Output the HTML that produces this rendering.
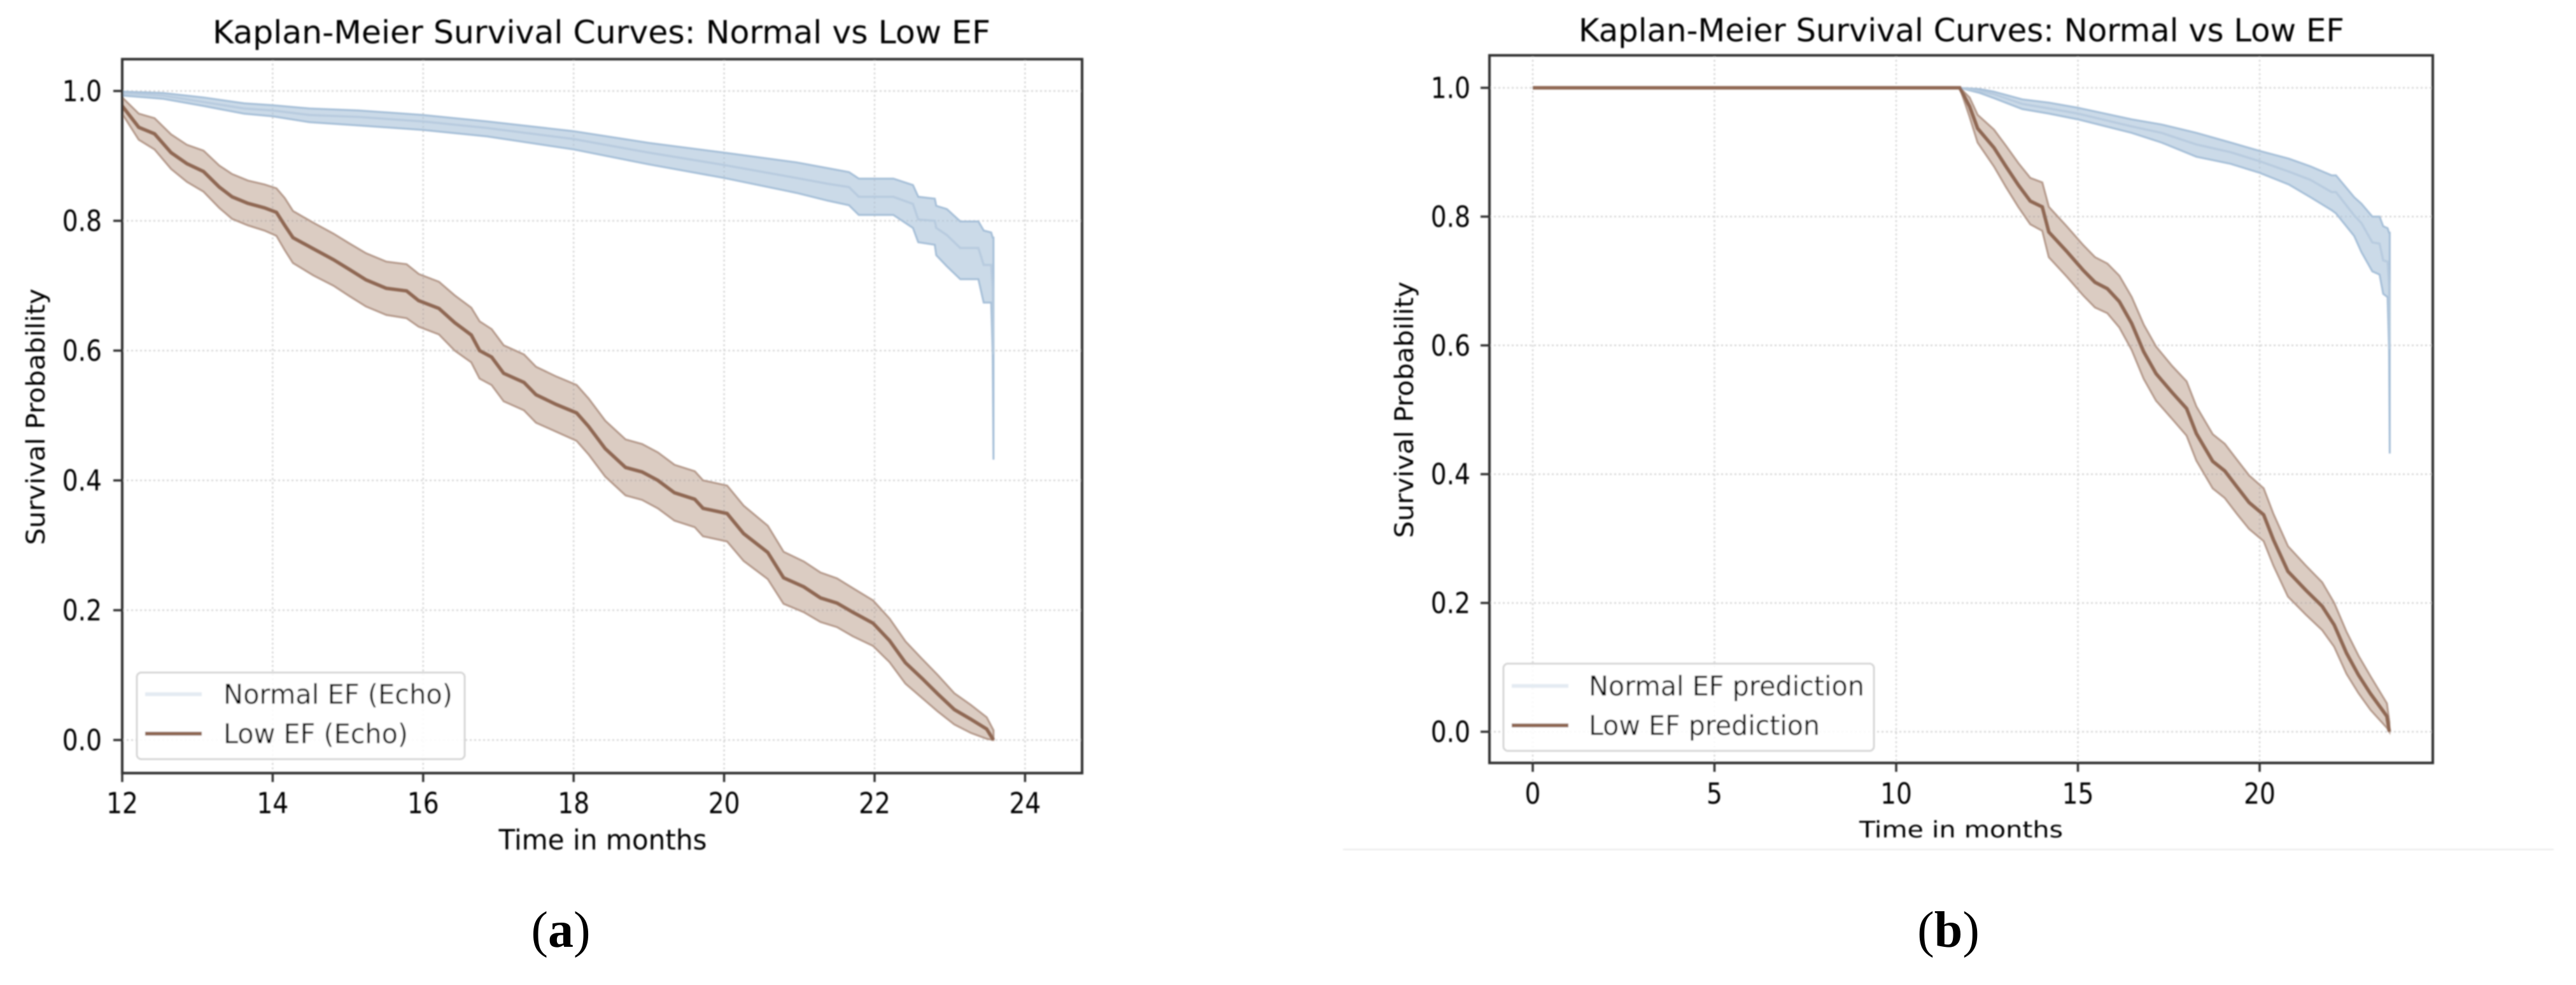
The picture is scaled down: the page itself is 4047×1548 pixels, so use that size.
<!DOCTYPE html>
<html>
<head>
<meta charset="utf-8">
<title>Kaplan-Meier Survival Curves</title>
<style>
html,body{margin:0;padding:0;background:#fff;}
svg{display:block;}
text{font-family:"DejaVu Sans","Liberation Sans",sans-serif;fill:#000;}
.cap{font-family:"Liberation Serif",serif;font-size:80px;fill:#000;}
</style>
</head>
<body>
<svg id="figure" xmlns="http://www.w3.org/2000/svg" width="4047" height="1548" viewBox="0 0 4047 1548">
<defs><filter id="soft" x="-2%" y="-2%" width="104%" height="104%"><feGaussianBlur stdDeviation="1"/></filter></defs>
<rect width="4047" height="1548" fill="#fff"/>
<g id="root" filter="url(#soft)">
<g id="panelA"></g>
<g id="panelB"></g>
<line x1="2110" x2="4012" y1="1335" y2="1335" stroke="#e9e9e9" stroke-width="2"/>
</g>
<text class="cap" x="881" y="1488" text-anchor="middle">(<tspan font-weight="bold">a</tspan>)</text>
<text class="cap" x="3061" y="1488" text-anchor="middle">(<tspan font-weight="bold">b</tspan>)</text>
</svg>
<script>
const yTicks = [0, 0.2, 0.4, 0.6, 0.8, 1.0];
const yTickLabels = ['0.0', '0.2', '0.4', '0.6', '0.8', '1.0'];
const aXTicks = [12, 14, 16, 18, 20, 22, 24];
const bXTicks = [0, 5, 10, 15, 20];

const aNormalTime = [12,12.54,13.08,13.62,14,14.49,15.14,16,16.85,18,19,20,20.96,21.38,21.66,21.79,22.25,22.51,22.58,22.80,22.82,22.96,23.14,23.38,23.45,23.55,23.57,23.58];
const aNormalSurv = [.997,.993,.983,.973,.97,.963,.96,.953,.943,.926,.905,.886,.866,.857,.852,.837,.837,.826,.802,.80,.789,.778,.758,.758,.732,.732,.695,.594];
const aNormalUpper = [.999,.997,.99,.981,.978,.973,.97,.963,.953,.938,.92,.905,.89,.881,.875,.865,.865,.855,.837,.834,.823,.818,.799,.799,.785,.782,.774,.774];
const aNormalLower = [.993,.988,.977,.965,.961,.952,.947,.94,.93,.91,.887,.866,.843,.831,.824,.809,.809,.789,.767,.763,.747,.73,.71,.71,.674,.674,.594,.432];

const aLowTime = [12,12.22,12.43,12.65,12.86,13.08,13.29,13.46,13.67,13.89,14.05,14.16,14.27,14.54,14.81,15.02,15.24,15.51,15.78,15.94,16.21,16.42,16.64,16.75,16.91,17.07,17.34,17.5,17.77,18.04,18.2,18.42,18.69,18.91,19.12,19.34,19.61,19.72,20.04,20.26,20.58,20.79,21.06,21.28,21.5,21.71,21.98,22.2,22.41,22.63,22.84,23.06,23.28,23.49,23.58];
const aLowSurv = [.977,.944,.934,.905,.888,.876,.852,.837,.827,.82,.813,.793,.774,.757,.74,.725,.709,.696,.692,.677,.665,.643,.624,.60,.59,.565,.551,.532,.517,.504,.483,.449,.42,.413,.40,.381,.371,.357,.349,.318,.289,.25,.236,.219,.211,.197,.18,.153,.119,.095,.071,.047,.032,.017,0];
const aLowUpper = [.99,.965,.958,.933,.917,.908,.885,.872,.862,.856,.85,.835,.815,.797,.78,.765,.75,.737,.733,.718,.706,.685,.666,.645,.633,.608,.594,.575,.56,.547,.526,.492,.463,.456,.443,.424,.414,.40,.392,.361,.33,.29,.275,.258,.249,.234,.215,.187,.152,.125,.10,.072,.054,.035,.015];
const aLowLower = [.965,.925,.91,.88,.86,.845,.82,.803,.793,.785,.777,.755,.735,.716,.70,.684,.668,.655,.65,.637,.625,.60,.582,.557,.547,.522,.508,.489,.475,.461,.44,.406,.377,.37,.357,.338,.328,.314,.306,.276,.248,.21,.197,.182,.174,.16,.145,.12,.087,.065,.044,.024,.011,.002,0];

const bNormalTime = [0,11.75,12.3,12.69,13.47,14.2,15,16.48,17.3,18.26,19.2,20,20.8,21.4,21.98,22.1,22.6,22.8,23.1,23.3,23.4,23.52,23.56,23.58];
const bNormalSurv = [1,1,.995,.99,.975,.968,.96,.94,.93,.912,.9,.886,.87,.857,.838,.838,.802,.79,.76,.758,.732,.73,.695,.594];
const bNormalUpper = [1,1,.998,.994,.982,.977,.969,.951,.943,.93,.915,.902,.89,.878,.864,.864,.83,.82,.80,.80,.785,.782,.775,.775];
const bNormalLower = [1,1,.992,.984,.967,.96,.951,.93,.915,.893,.882,.868,.85,.83,.81,.805,.77,.745,.715,.71,.68,.675,.594,.432];

const bLowTime = [0,11.75,12.02,12.24,12.69,13.02,13.36,13.69,14.02,14.2,14.69,15.14,15.47,15.81,16.14,16.48,16.81,17.15,17.59,17.99,18.26,18.71,19.04,19.38,19.71,20.11,20.38,20.78,21.27,21.72,22.05,22.39,22.72,23.05,23.5,23.57];
const bLowSurv = [1,1,.971,.937,.907,.878,.849,.824,.815,.776,.746,.717,.698,.688,.668,.634,.59,.556,.527,.502,.463,.42,.405,.38,.356,.337,.298,.249,.22,.195,.166,.122,.088,.059,.024,0];
const bLowUpper = [1,1,.985,.958,.935,.91,.883,.86,.853,.815,.785,.756,.737,.727,.708,.675,.632,.598,.568,.544,.505,.462,.447,.422,.398,.378,.338,.288,.258,.232,.2,.155,.118,.086,.044,.015];
const bLowLower = [1,1,.955,.915,.878,.846,.815,.788,.778,.737,.707,.678,.659,.65,.628,.593,.548,.514,.486,.46,.421,.378,.363,.338,.315,.296,.258,.21,.182,.158,.132,.09,.06,.034,.006,0];

const NS = 'http://www.w3.org/2000/svg';
const NORMAL_FILL = '#a9c1d9', NORMAL_EDGE = '#a6bfd8', LOW_FILL = '#a57f68', LOW_EDGE = '#b59a8b', LOW_LINE = '#8f6753';
const FRAME = '#333';

function mk(parent, tag, attrs, name) {
  const el = document.createElementNS(NS, tag);
  for (const k in attrs) el.setAttribute(k, attrs[k]);
  
  
  parent.appendChild(el);
  return el;
}
function label(parent, str, x, y, size, len, anchor, name, rotate) {
  const a = {x: x, y: y, 'font-size': size, 'text-anchor': anchor};
  if (len) { a.textLength = len; a.lengthAdjust = 'spacingAndGlyphs'; }
  if (rotate) a.transform = 'rotate(-90 ' + x + ' ' + y + ')';
  const t = mk(parent, 'text', a, name);
  t.textContent = str;
  return t;
}
function tickWidth(str) {
  let em = 0;
  for (const c of str) em += (c === '.' ? 0.318 : 0.636);
  return em * 45 * 0.87;
}
function drawPanel(g, p) {
  const sx = t => p.x0 + (t - p.t0) * p.pxPerUnit;
  const sy = v => p.y0 - v * p.yPx;
  // grid
  p.xTicks.forEach(t => mk(g, 'line', {x1: sx(t), x2: sx(t), y1: p.top, y2: p.bottom, stroke: '#d6d6d6', 'stroke-width': 2.5, 'stroke-dasharray': '3 4'}, 'x-gridline-' + t));
  yTicks.forEach(v => mk(g, 'line', {x1: p.left, x2: p.right, y1: sy(v), y2: sy(v), stroke: '#d6d6d6', 'stroke-width': 2.5, 'stroke-dasharray': '3 4'}, 'y-gridline-' + v));
  // series
  function series(name, time, surv, upper, lower, fill, edge, fillOp, line, lineW, lineOp) {
    let d = '';
    time.forEach((t, i) => { d += (i ? 'L' : 'M') + sx(t).toFixed(1) + ' ' + sy(upper[i]).toFixed(1); });
    for (let i = time.length - 1; i >= 0; i--) d += 'L' + sx(time[i]).toFixed(1) + ' ' + sy(lower[i]).toFixed(1);
    mk(g, 'path', {d: d + 'Z', fill: fill, 'fill-opacity': fillOp, stroke: edge, 'stroke-width': 3}, name + '-confidence-band');
    let c = '';
    time.forEach((t, i) => { c += (i ? 'L' : 'M') + sx(t).toFixed(1) + ' ' + sy(surv[i]).toFixed(1); });
    mk(g, 'path', {d: c, fill: 'none', stroke: line, 'stroke-width': lineW, 'stroke-opacity': lineOp}, name + '-survival-line');
  }
  series('normal-ef', p.nT, p.nS, p.nU, p.nL, NORMAL_FILL, NORMAL_EDGE, .6, '#b6cade', 3.5, .9);
  series('low-ef', p.lT, p.lS, p.lU, p.lL, LOW_FILL, LOW_EDGE, .4, LOW_LINE, 5.5, 1);
  // frame
  mk(g, 'rect', {x: p.left, y: p.top, width: p.right - p.left, height: p.bottom - p.top, fill: 'none', stroke: FRAME, 'stroke-width': 4}, 'plot-frame');
  // ticks
  p.xTicks.forEach(t => {
    mk(g, 'line', {x1: sx(t), x2: sx(t), y1: p.bottom, y2: p.bottom + 14, stroke: FRAME, 'stroke-width': 3.5}, 'x-tick-' + t);
    label(g, String(t), sx(t), p.xLabelBase, 45, tickWidth(String(t)), 'middle', 'x-tick-label-' + t);
  });
  yTicks.forEach((v, i) => {
    mk(g, 'line', {x1: p.left - 14, x2: p.left, y1: sy(v), y2: sy(v), stroke: FRAME, 'stroke-width': 3.5}, 'y-tick-' + i);
    label(g, yTickLabels[i], p.left - p.yLabelGap, sy(v) + 16, 45, tickWidth(yTickLabels[i]), 'end', 'y-tick-label-' + i);
  });
  // labels
  label(g, p.title, (p.titleL + p.titleR) / 2, p.titleBase, 50, p.titleR - p.titleL, 'middle', 'chart-title');
  label(g, 'Time in months', p.xtX, p.xtBase, p.xtSize, p.xtLen, 'middle', 'x-axis-title');
  label(g, 'Survival Probability', p.ytX, p.ytY, 40, 403, 'middle', 'y-axis-title', true);
  // legend
  const L = p.legend;
  const lg = mk(g, 'g', {}, 'legend');
  mk(lg, 'rect', {x: L.x, y: L.y, width: L.w, height: L.h, rx: 7, fill: '#fff', 'fill-opacity': .85, stroke: '#d6d6d6', 'stroke-width': 3}, 'legend-frame');
  mk(lg, 'line', {x1: L.lx1, x2: L.lx2, y1: L.y1, y2: L.y1, stroke: '#e4ebf2', 'stroke-width': 6}, 'legend-line-normal');
  mk(lg, 'line', {x1: L.lx1, x2: L.lx2, y1: L.y2, y2: L.y2, stroke: LOW_LINE, 'stroke-width': 6}, 'legend-line-low');
  label(lg, L.t1, L.tx, L.y1 + 15, 43, L.len1, 'start', 'legend-label-normal');
  label(lg, L.t2, L.tx, L.y2 + 15, 43, L.len2, 'start', 'legend-label-low');
}
drawPanel(document.getElementById('panelA'), {
  left: 192, right: 1700, top: 93, bottom: 1215, x0: 192, t0: 12, pxPerUnit: 118.2, y0: 1163, yPx: 1020,
  xTicks: aXTicks, xLabelBase: 1278, yLabelGap: 32,
  title: 'Kaplan-Meier Survival Curves: Normal vs Low EF', titleL: 334, titleR: 1556, titleBase: 68,
  xtX: 947, xtBase: 1335, xtSize: 44, xtLen: 327, ytX: 70, ytY: 655,
  nT: aNormalTime, nS: aNormalSurv, nU: aNormalUpper, nL: aNormalLower,
  lT: aLowTime, lS: aLowSurv, lU: aLowUpper, lL: aLowLower,
  legend: {x: 215, y: 1057, w: 515, h: 136, lx1: 228, lx2: 317, y1: 1091, y2: 1153, tx: 351, t1: 'Normal EF (Echo)', t2: 'Low EF (Echo)', len1: 360, len2: 290}
});
drawPanel(document.getElementById('panelB'), {
  left: 2340, right: 3822, top: 87, bottom: 1199, x0: 2408, t0: 0, pxPerUnit: 57.1, y0: 1150, yPx: 1012,
  xTicks: bXTicks, xLabelBase: 1263, yLabelGap: 30,
  title: 'Kaplan-Meier Survival Curves: Normal vs Low EF', titleL: 2480, titleR: 3683, titleBase: 65,
  xtX: 3081, xtBase: 1316, xtSize: 36, xtLen: 320, ytX: 2220, ytY: 644,
  nT: bNormalTime, nS: bNormalSurv, nU: bNormalUpper, nL: bNormalLower,
  lT: bLowTime, lS: bLowSurv, lU: bLowUpper, lL: bLowLower,
  legend: {x: 2362, y: 1043, w: 582, h: 137, lx1: 2375, lx2: 2464, y1: 1078, y2: 1140, tx: 2496, t1: 'Normal EF prediction', t2: 'Low EF prediction', len1: 433, len2: 363}
});
</script>
</body>
</html>
